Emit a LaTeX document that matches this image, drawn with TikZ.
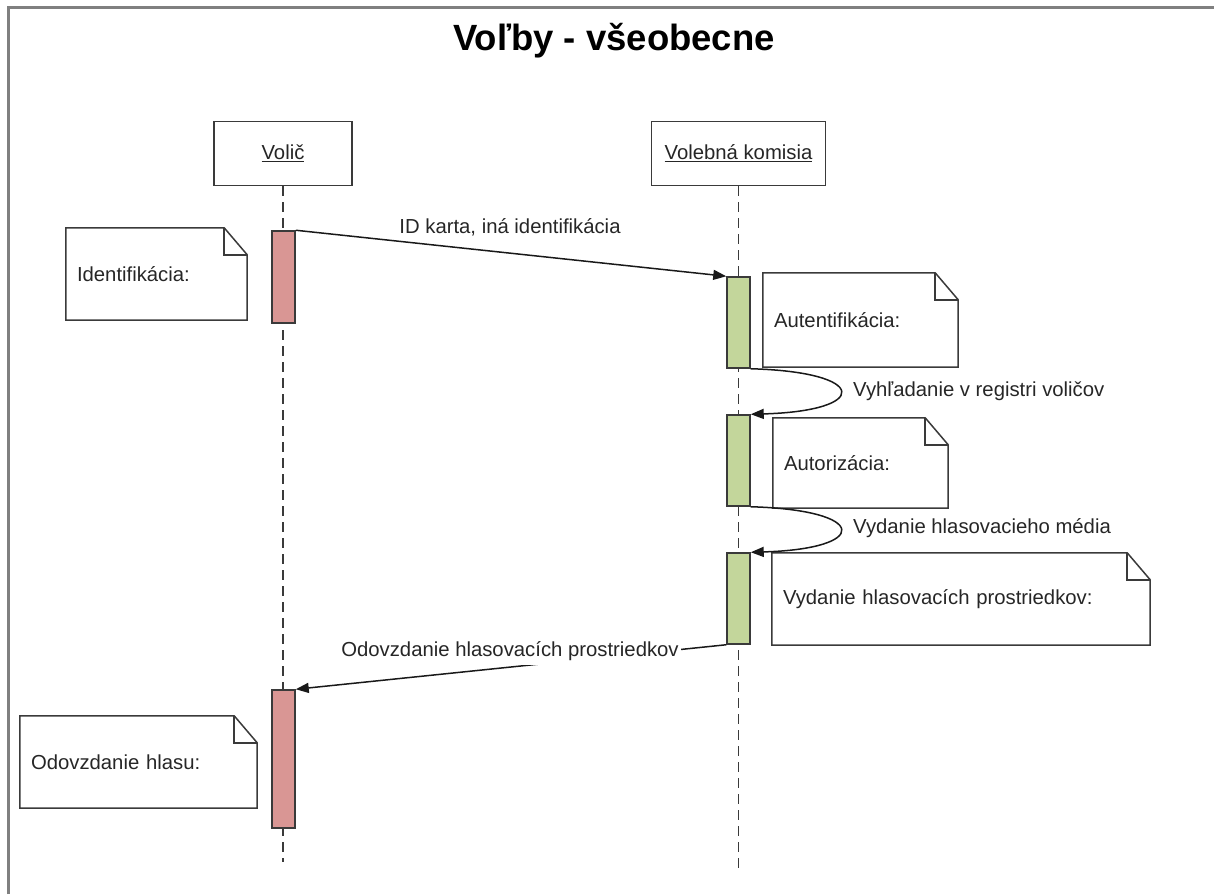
\documentclass[tikz,border=0pt]{standalone}
\usepackage{fontspec}
\setmainfont{Liberation Sans}
\usetikzlibrary{arrows.meta}
\definecolor{actred}{HTML}{D99694}
\definecolor{actgreen}{HTML}{C3D69B}
\definecolor{linegray}{HTML}{3A3A3A}
\definecolor{framegray}{HTML}{808080}
\definecolor{textgray}{HTML}{262626}
\newcommand\foldnote[1]{%
  \draw[noteline] (#1.north west) -- ([xshift=-23pt]#1.north east) -- ([yshift=-27pt]#1.north east) -- (#1.south east) -- (#1.south west) -- cycle;
  \draw[noteline] ([xshift=-23pt]#1.north east) -- ([xshift=-23pt,yshift=-27pt]#1.north east) -- ([yshift=-27pt]#1.north east);}
\begin{document}
\begin{tikzpicture}[x=1pt,y=-1pt,
  every node/.style={font=\fontsize{20.3}{24}\selectfont, text=textgray},
  head/.style={draw=linegray, line width=1.5pt, fill=white, inner sep=0pt},
  lifeline/.style={draw=linegray, line width=1.5pt, dash pattern=on 10pt off 6pt},
  actv/.style={draw=linegray, line width=1.5pt, minimum width=23pt, inner sep=0pt},
  notebox/.style={inner xsep=11pt, inner ysep=0pt, align=left},
  noteline/.style={draw=linegray, line width=1.5pt, line join=miter},
  msg/.style={draw=black!90, line width=1.5pt, -{Triangle[length=13pt,width=10pt]}},
  lbl/.style={inner sep=0pt}]
\useasboundingbox (0,0) rectangle (1214,894);
% frame
\coordinate (fbl) at (8.5,894);
\coordinate (ftl) at (8.5,7.5);
\coordinate (ftr) at (1214,7.5);
\draw[framegray, line width=2.5pt] (fbl) -- (ftl) -- (ftr);
% title
\node[font=\bfseries\fontsize{36.5}{42}\selectfont, text=black] (title) at (614,41) {Voľby - všeobecne};
% lifelines heads
\node[head, minimum width=138pt, minimum height=64pt] (volic) at (283,153.5) {\underline{Volič}};
\node[head, minimum width=174pt, minimum height=64pt] (komisia) at (738.5,153.5) {\underline{Volebná komisia}};
\coordinate (volicend) at (283,862);
\coordinate (komend) at (738.5,870);
\draw[lifeline] (volic.south) -- (volicend);
\draw[lifeline] (komisia.south) -- (komend);
% activations
\node[actv, fill=actred, minimum height=92pt] (a1) at (283.5,277) {};
\node[actv, fill=actred, minimum height=138pt] (a2) at (283.5,759) {};
\node[actv, fill=actgreen, minimum height=91pt] (k1) at (738.5,322.5) {};
\node[actv, fill=actgreen, minimum height=91pt] (k2) at (738.5,460.5) {};
\node[actv, fill=actgreen, minimum height=91pt] (k3) at (738.5,598.5) {};
% notes
\node[notebox, minimum width=181pt, minimum height=92pt, text width=159pt] (n1) at (156.5,274) {Identifikácia:};
\foldnote{n1}
\node[notebox, minimum width=195pt, minimum height=94pt, text width=173pt] (n2) at (860.5,320) {Autentifikácia:};
\foldnote{n2}
\node[notebox, minimum width=175pt, minimum height=90pt, text width=153pt] (n3) at (860.5,463) {Autorizácia:};
\foldnote{n3}
\node[notebox, minimum width=378pt, minimum height=92pt, text width=356pt] (n4) at (961,599) {Vydanie hlasovacích prostriedkov:};
\foldnote{n4}
\node[notebox, minimum width=237pt, minimum height=92pt, text width=215pt] (n5) at (138.5,762) {Odovzdanie hlasu:};
\foldnote{n5}
% messages
\draw[msg] (a1.north east) -- (k1.north west);
\node[lbl] (l1) at (510,227) {ID karta, iná identifikácia};
\draw[msg] (k1.south east) .. controls (870,372) and (870,411) .. (k2.north east);
\node[lbl, anchor=west] (l2) at (853,391) {Vyhľadanie v registri voličov};
\draw[msg] (k2.south east) .. controls (870,510) and (870,549) .. (k3.north east);
\node[lbl, anchor=west] (l3) at (853,528) {Vydanie hlasovacieho média};
\draw[msg] (k3.south west) -- (a2.north east);
\node[fill=white, inner xsep=2pt, inner ysep=4pt] (l4) at (510,651) {Odovzdanie hlasovacích prostriedkov};
\end{tikzpicture}
\end{document}
